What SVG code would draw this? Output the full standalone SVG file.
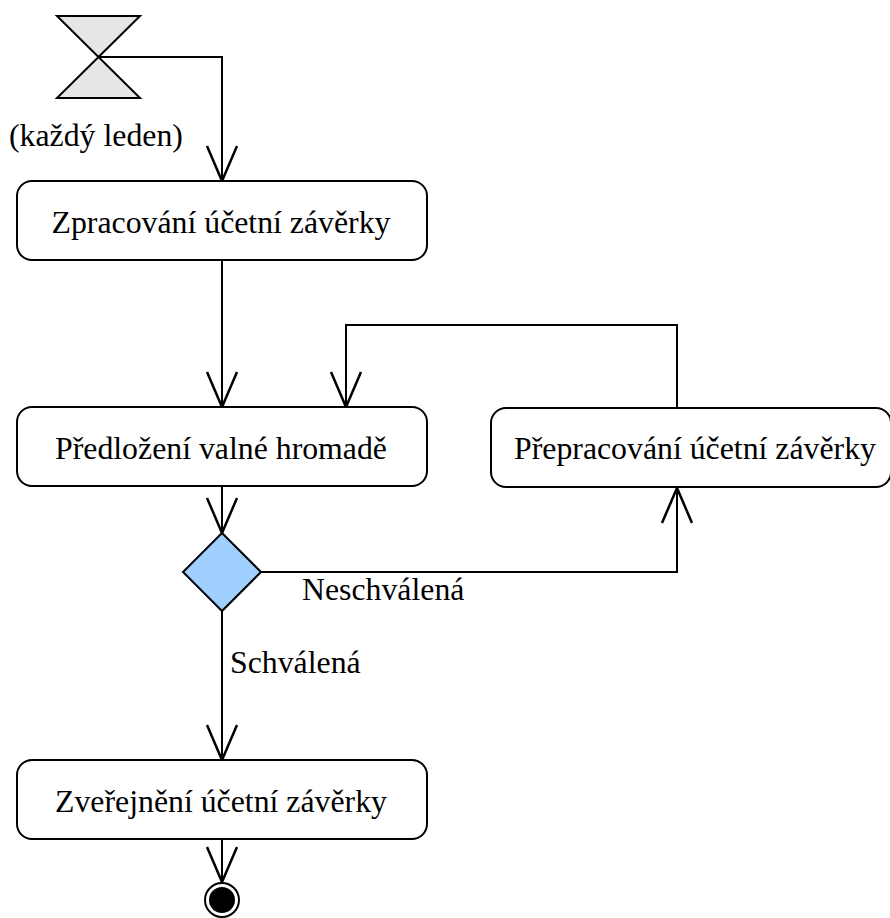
<svg xmlns="http://www.w3.org/2000/svg" width="890" height="918" viewBox="0 0 890 918">
  <style>
    .box { fill: #ffffff; stroke: #000000; stroke-width: 2; }
    .edge { fill: none; stroke: #000000; stroke-width: 2; }
    .lbl { font-family: 'Liberation Serif', 'DejaVu Serif', serif; font-size: 31.8px; fill: #000000; }
    .mid { text-anchor: middle; }
  </style>
  <defs>
    <!-- open V arrowhead used by every flow -->
    <marker id="open" markerUnits="userSpaceOnUse" markerWidth="40" markerHeight="40" viewBox="-30 -15 32 30" refX="0" refY="0" orient="auto" overflow="visible">
      <path d="M -28 -12 L 0 0 L -28 12" fill="none" stroke="#000000" stroke-width="2"/>
    </marker>
  </defs>

  <rect x="0" y="0" width="890" height="918" fill="#ffffff"/>

  <!-- control flows -->
  <g id="connectors">
    <path class="edge" d="M 98 57 L 222 57 L 222 181" marker-end="url(#open)"/>
    <path class="edge" d="M 222 260 L 222 407" marker-end="url(#open)"/>
    <path class="edge" d="M 677 408 L 677 325 L 346 325 L 346 407" marker-end="url(#open)"/>
    <path class="edge" d="M 222 486 L 222 533" marker-end="url(#open)"/>
    <path class="edge" d="M 261 572 L 677 572 L 677 488" marker-end="url(#open)"/>
    <path class="edge" d="M 222 611 L 222 760" marker-end="url(#open)"/>
    <path class="edge" d="M 222 839 L 222 882" marker-end="url(#open)"/>
    <text class="lbl" x="302" y="600">Neschválená</text>
    <text class="lbl" x="230" y="673">Schválená</text>
  </g>

  <!-- time event -->
  <g id="start">
    <path d="M 57 16 L 140 16 L 57 98 L 140 98 Z" fill="#e6e6e6" stroke="#000000" stroke-width="2"/>
    <text class="lbl" x="9" y="146">(každý leden)</text>
  </g>

  <g id="zpracovani">
    <rect class="box" x="17" y="181" width="410" height="79" rx="15" ry="15"/>
    <text class="lbl mid" x="221" y="233">Zpracování účetní závěrky</text>
  </g>

  <g id="predlozeni">
    <rect class="box" x="17" y="407" width="410" height="79" rx="15" ry="15"/>
    <text class="lbl mid" x="221" y="459">Předložení valné hromadě</text>
  </g>

  <g id="prepracovani">
    <rect class="box" x="491" y="408" width="400" height="79" rx="15" ry="15"/>
    <text class="lbl mid" x="695" y="459">Přepracování účetní závěrky</text>
  </g>

  <g id="rozhodnuti">
    <path d="M 222 533 L 261 572 L 222 611 L 183 572 Z" fill="#9fceff" stroke="#000000" stroke-width="2"/>
  </g>

  <g id="zverejneni">
    <rect class="box" x="17" y="760" width="410" height="79" rx="15" ry="15"/>
    <text class="lbl mid" x="221" y="812">Zveřejnění účetní závěrky</text>
  </g>

  <g id="konec">
    <circle cx="222" cy="900" r="17" fill="#ffffff" stroke="#000000" stroke-width="2"/>
    <circle cx="222" cy="900" r="13" fill="#000000"/>
  </g>
</svg>
